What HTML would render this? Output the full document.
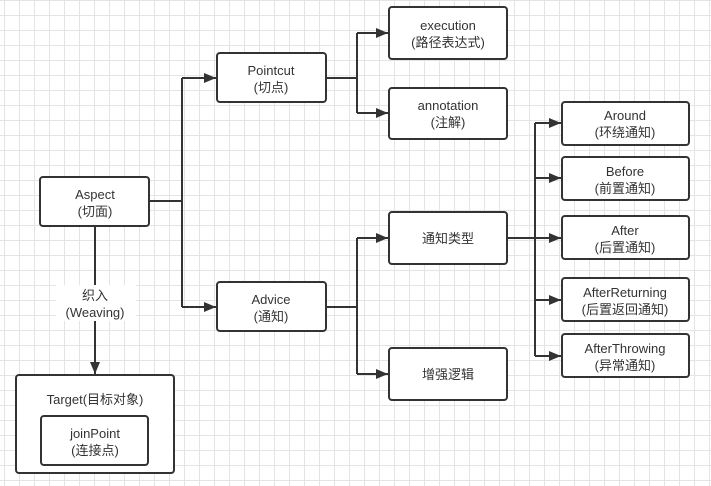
<!DOCTYPE html>
<html><head><meta charset="utf-8"><style>
html,body{margin:0;padding:0;background:#fff}
svg{display:block}
text{font-family:"Liberation Sans","Noto Sans CJK SC",sans-serif;font-size:13px;fill:#333;text-anchor:middle}
</style></head><body>
<svg width="711" height="486" xmlns="http://www.w3.org/2000/svg">
<defs>
<pattern id="g" x="4" y="0" width="15" height="15" patternUnits="userSpaceOnUse">
<path d="M0 0.5H15M0.5 0V15" stroke="#e4e4e4" stroke-width="1" fill="none"/>
</pattern>
<marker id="a" markerWidth="12" markerHeight="10" refX="12" refY="5" orient="auto" markerUnits="userSpaceOnUse">
<path d="M0 0L12 5L0 10Z" fill="#333"/>
</marker>
</defs>
<rect width="711" height="486" fill="url(#g)"/>
<g stroke="#333" stroke-width="2" fill="none">
<path d="M149 201H182M182 78V307"/>
<path d="M182 78H216" marker-end="url(#a)"/>
<path d="M182 307H216" marker-end="url(#a)"/>
<path d="M326 78H357M357 33V113"/>
<path d="M357 33H388" marker-end="url(#a)"/>
<path d="M357 113H388" marker-end="url(#a)"/>
<path d="M326 307H357M357 238V374"/>
<path d="M357 238H388" marker-end="url(#a)"/>
<path d="M357 374H388" marker-end="url(#a)"/>
<path d="M507 238H535M535 123V356"/>
<path d="M535 123H561" marker-end="url(#a)"/>
<path d="M535 178H561" marker-end="url(#a)"/>
<path d="M535 238H561" marker-end="url(#a)"/>
<path d="M535 300H561" marker-end="url(#a)"/>
<path d="M535 356H561" marker-end="url(#a)"/>
<path d="M95 226V374" marker-end="url(#a)"/>
</g>
<rect x="56" y="285" width="80" height="36" fill="#fff"/>
<g stroke="#333" stroke-width="2" fill="#fff">
<rect x="40" y="177" width="109" height="49" rx="3"/>
<rect x="217" y="53" width="109" height="49" rx="3"/>
<rect x="217" y="282" width="109" height="49" rx="3"/>
<rect x="389" y="7" width="118" height="52" rx="3"/>
<rect x="389" y="88" width="118" height="51" rx="3"/>
<rect x="389" y="212" width="118" height="52" rx="3"/>
<rect x="389" y="348" width="118" height="52" rx="3"/>
<rect x="562" y="102" width="127" height="43" rx="3"/>
<rect x="562" y="157" width="127" height="43" rx="3"/>
<rect x="562" y="216" width="127" height="43" rx="3"/>
<rect x="562" y="278" width="127" height="43" rx="3"/>
<rect x="562" y="334" width="127" height="43" rx="3"/>
<rect x="16" y="375" width="158" height="98" rx="3"/>
<rect x="41" y="416" width="107" height="49" rx="3"/>
</g>
<text x="95" y="199">Aspect</text><text x="95" y="216">(切面)</text>
<text x="271" y="75">Pointcut</text><text x="271" y="92">(切点)</text>
<text x="271" y="304">Advice</text><text x="271" y="321">(通知)</text>
<text x="448" y="30">execution</text><text x="448" y="47">(路径表达式)</text>
<text x="448" y="110">annotation</text><text x="448" y="127">(注解)</text>
<text x="448" y="243">通知类型</text>
<text x="448" y="379">增强逻辑</text>
<text x="625" y="120">Around</text><text x="625" y="137">(环绕通知)</text>
<text x="625" y="176">Before</text><text x="625" y="193">(前置通知)</text>
<text x="625" y="235">After</text><text x="625" y="252">(后置通知)</text>
<text x="625" y="297">AfterReturning</text><text x="625" y="314">(后置返回通知)</text>
<text x="625" y="353">AfterThrowing</text><text x="625" y="370">(异常通知)</text>
<text x="95" y="300">织入</text><text x="95" y="317">(Weaving)</text>
<text x="95" y="404">Target(目标对象)</text>
<text x="95" y="438">joinPoint</text><text x="95" y="455">(连接点)</text>
</svg>
</body></html>
